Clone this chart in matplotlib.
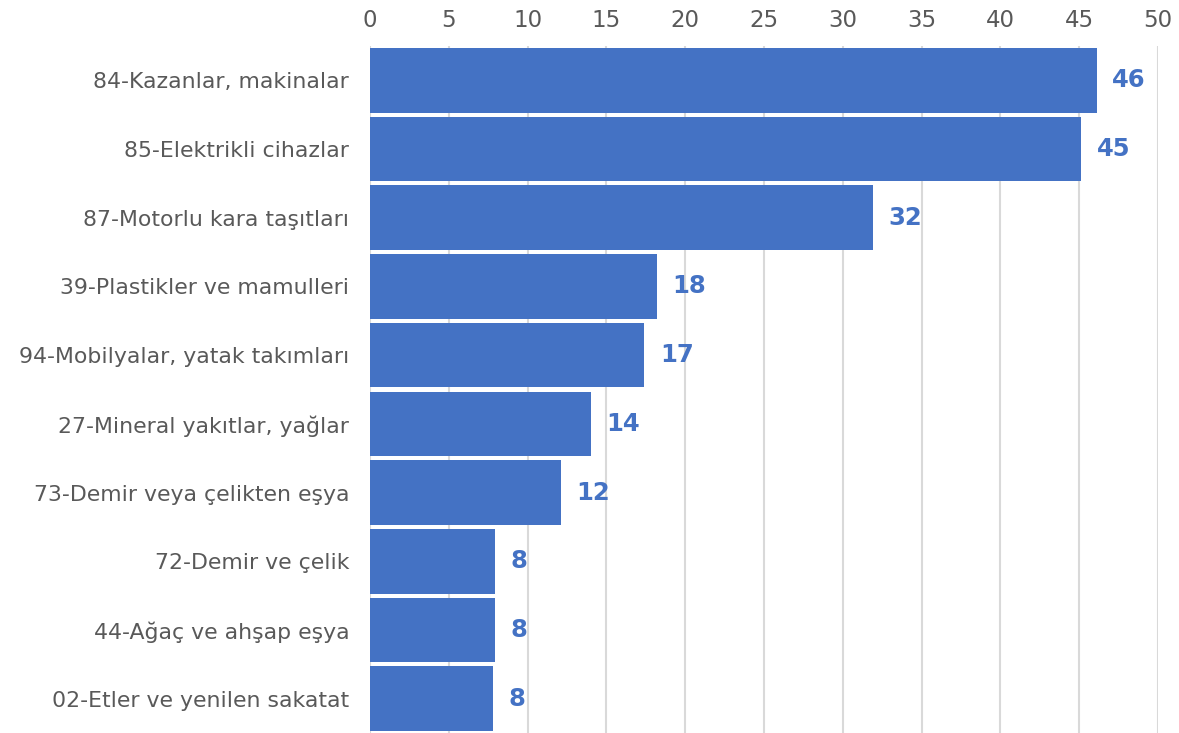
import matplotlib
matplotlib.use("Agg")
import matplotlib.pyplot as plt

categories = [
    "84-Kazanlar, makinalar",
    "85-Elektrikli cihazlar",
    "87-Motorlu kara taşıtları",
    "39-Plastikler ve mamulleri",
    "94-Mobilyalar, yatak takımları",
    "27-Mineral yakıtlar, yağlar",
    "73-Demir veya çelikten eşya",
    "72-Demir ve çelik",
    "44-Ağaç ve ahşap eşya",
    "02-Etler ve yenilen sakatat",
]
values = [46.1, 45.1, 31.9, 18.2, 17.4, 14.0, 12.1, 7.9, 7.9, 7.8]
xticks = [0, 5, 10, 15, 20, 25, 30, 35, 40, 45, 50]

BAR = "#4472C4"
GRAY = "#595959"

plt.rcParams["font.family"] = ["DejaVu Sans"]

fig = plt.figure(figsize=(11.79, 7.33), dpi=100)
ax = fig.add_axes([370 / 1179, 0.0, 788 / 1179, (733 - 46) / 733])

ys = range(len(categories))
ax.barh(ys, values, height=0.94, color=BAR, zorder=3)

for y, v in zip(ys, values):
    ax.text(v + 1.0, y, f"{v:.0f}", va="center", ha="left",
            fontsize=17.5, fontweight="bold", color=BAR, zorder=4)

ax.set_xlim(0, 50)
ax.set_ylim(len(categories) - 0.5, -0.5)
ax.set_xticks(xticks)
ax.set_yticks(list(ys))
ax.set_yticklabels(categories)
ax.xaxis.tick_top()
ax.tick_params(axis="both", length=0, colors=GRAY)
ax.tick_params(axis="x", pad=10, labelsize=16.5)
ax.tick_params(axis="y", pad=15, labelsize=15.8)
ax.grid(axis="x", color="#d9d9d9", linewidth=1.5, zorder=0)
for s in ax.spines.values():
    s.set_visible(False)

fig.savefig("out.png", dpi=100)
